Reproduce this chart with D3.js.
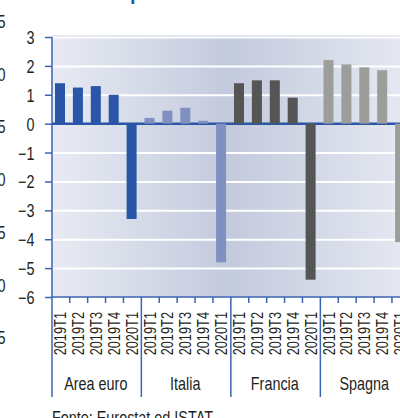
<!DOCTYPE html>
<html>
<head>
<meta charset="utf-8">
<script src="https://cdn.jsdelivr.net/npm/d3@7"></script>
<style>
  html, body { margin: 0; padding: 0; background: #fff; }
  svg { display: block; }
  text { font-family: "Liberation Sans", Arial, sans-serif; fill: #231f20; }
</style>
</head>
<body>
<svg id="chart" width="400" height="418"></svg>
<script>
// Year-on-year GDP growth, quarterly, by area
const countries = ["Area euro", "Italia", "Francia", "Spagna"];
const quarters = ["2019T1", "2019T2", "2019T3", "2019T4", "2020T1"];
const areaEuro = [1.4, 1.25, 1.3, 1.0, -3.3];
const italia   = [0.2, 0.45, 0.55, 0.1, -4.8];
const francia  = [1.4, 1.5, 1.5, 0.9, -5.4];
const spagna   = [2.2, 2.05, 1.95, 1.85, -4.1];
const yTicks = [3, 2, 1, 0, -1, -2, -3, -4, -5, -6];
// axis of the neighbouring panel, clipped at the left edge
const sideTicks = [1.5, 1.0, 0.5, 0.0, -0.5, -1.0, -1.5];

const seriesValues = [areaEuro, italia, francia, spagna];
const colors = ["#2a56a8", "#8090c0", "#555555", "#9d9d9b"];
const axisBlue = "#3a63b3";
const NARROW = 0.8; // horizontal squeeze giving a condensed face

const rows = [];
countries.forEach((c, ci) => {
  quarters.forEach((q, qi) => {
    rows.push({ key: c + "|" + q, country: c, quarter: q, value: seriesValues[ci][qi], color: colors[ci] });
  });
});

const svg = d3.select("#chart");
const plotLeft = 52, plotRight = 409.05, plotTop = 36, plotBottom = 297;

const x = d3.scaleBand().domain(rows.map(d => d.key)).range([51.05, plotRight]).padding(0);
const y = d3.scaleLinear().domain([-6, 3]).range([plotBottom, 37]);
const xGroup = d3.scaleBand().domain(countries).range([51.05, plotRight]).padding(0);

// condensed text placed at (px, py)
function narrowText(sel, px, py, str, size, anchor) {
  const g = sel.append("g").attr("transform", `translate(${px},${py}) scale(${NARROW},1)`);
  return g.append("text").attr("text-anchor", anchor || "start").attr("font-size", size).text(str);
}

// plot background gradient
const defs = svg.append("defs");
const grad = defs.append("linearGradient").attr("id", "bg").attr("x1", "0%").attr("x2", "100%").attr("y1", "0%").attr("y2", "0%");
grad.append("stop").attr("offset", "0%").attr("stop-color", "#e8ebf3");
grad.append("stop").attr("offset", "48%").attr("stop-color", "#c3cadd");
grad.append("stop").attr("offset", "100%").attr("stop-color", "#e8ebf3");

svg.append("rect").attr("x", plotLeft).attr("y", plotTop).attr("width", plotRight - plotLeft + 12).attr("height", plotBottom - plotTop)
  .attr("fill", "url(#bg)");
svg.append("line").attr("x1", plotLeft).attr("x2", 400).attr("y1", plotTop).attr("y2", plotTop)
  .attr("stroke", "#c8cee0").attr("stroke-width", 1);

// horizontal gridlines
svg.append("g").selectAll("line").data(yTicks.filter(t => t !== 0 && t !== -6)).join("line")
  .attr("x1", plotLeft).attr("x2", 400)
  .attr("y1", d => y(d) + 0.5).attr("y2", d => y(d) + 0.5)
  .attr("stroke", "#ffffff").attr("stroke-width", 2);

// zero line
svg.append("line").attr("x1", plotLeft).attr("x2", 400).attr("y1", y(0)).attr("y2", y(0))
  .attr("stroke", "#2a56a8").attr("stroke-width", 2.5);

// bars
const barW = x.bandwidth() * 0.56;
svg.append("g").selectAll("rect").data(rows).join("rect")
  .attr("x", d => x(d.key) + (x.bandwidth() - barW) / 2)
  .attr("width", barW)
  .attr("y", d => y(Math.max(0, d.value)))
  .attr("height", d => Math.abs(y(d.value) - y(0)))
  .attr("fill", d => d.color);

// y axis
const yAxis = svg.append("g").attr("transform", `translate(${plotLeft},0)`)
  .call(d3.axisLeft(y).tickValues(yTicks).tickSize(7).tickPadding(10).tickFormat(d3.format("d")));
yAxis.select(".domain").attr("stroke", axisBlue).attr("stroke-width", 1.5).attr("d", `M0,37V${plotBottom}`);
yAxis.selectAll(".tick line").attr("stroke", axisBlue).attr("stroke-width", 1.5);
yAxis.selectAll(".tick text")
  .attr("font-size", 18).attr("fill", "#231f20").attr("dy", "0.36em")
  .attr("x", -17.5 / NARROW)
  .attr("transform", `scale(${NARROW},1)`);

// x axis line
svg.append("line").attr("x1", plotLeft).attr("x2", 400).attr("y1", plotBottom).attr("y2", plotBottom)
  .attr("stroke", axisBlue).attr("stroke-width", 1.5);

// minor ticks between quarters
const minor = rows.filter(d => d.quarter !== quarters[0]);
svg.append("g").selectAll("line").data(minor).join("line")
  .attr("x1", d => x(d.key) + 0.8).attr("x2", d => x(d.key) + 0.8)
  .attr("y1", plotBottom).attr("y2", plotBottom + 6)
  .attr("stroke", axisBlue).attr("stroke-width", 1.5);

// group separators
svg.append("g").selectAll("line").data(countries.slice(1)).join("line")
  .attr("x1", d => xGroup(d) + 0.8).attr("x2", d => xGroup(d) + 0.8)
  .attr("y1", plotBottom).attr("y2", 397)
  .attr("stroke", axisBlue).attr("stroke-width", 1.5);
svg.append("line").attr("x1", plotLeft).attr("x2", plotLeft).attr("y1", plotBottom).attr("y2", 397)
  .attr("stroke", axisBlue).attr("stroke-width", 1.5);

// quarter labels (rotated)
svg.append("g").selectAll("text").data(rows).join("text")
  .attr("transform", d => `translate(${x(d.key) + x.bandwidth() / 2 + 6},312) rotate(-90) scale(${NARROW},1)`)
  .attr("text-anchor", "end")
  .attr("font-size", 16)
  .text(d => d.quarter);

// country labels
const groupLabels = svg.append("g");
countries.forEach(c => narrowText(groupLabels, xGroup(c) + xGroup.bandwidth() / 2, 390, c, 18, "middle"));

// source note
narrowText(svg, 52, 424, "Fonte: Eurostat ed ISTAT", 18, "start");

// clipped labels of the adjacent panel
const ySide = d3.scaleLinear().domain([1.5, -1.5]).range([21.6, 337.8]);
const fmtIt = v => d3.format(".1f")(v).replace(".", ",");
const side = svg.append("g");
sideTicks.forEach(t => narrowText(side, 5.5, ySide(t), fmtIt(t), 18, "end").attr("dy", "0.36em"));

// title, mostly above the frame
svg.append("text").attr("x", 130).attr("y", 0).attr("font-size", 20).attr("font-weight", "bold")
  .style("fill", "#2a56a8").text("p");
</script>
</body>
</html>
